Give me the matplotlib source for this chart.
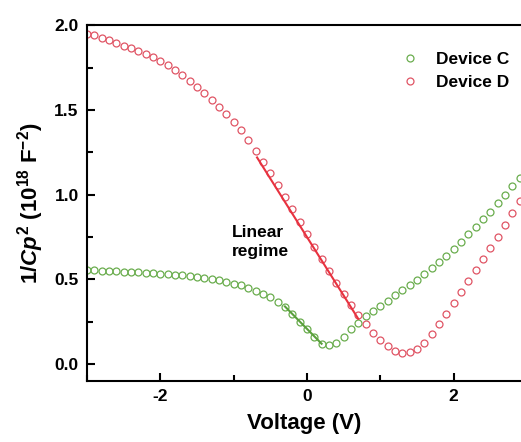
import numpy as np
import matplotlib
matplotlib.use("Agg")
import matplotlib.pyplot as plt
from matplotlib.ticker import MultipleLocator

plt.rcParams['font.family'] = ['Liberation Sans', 'DejaVu Sans']
plt.rcParams['mathtext.fontset'] = 'custom'
plt.rcParams['mathtext.rm'] = 'Liberation Sans:bold'
plt.rcParams['mathtext.it'] = 'Liberation Sans:bold:italic'
plt.rcParams['mathtext.bf'] = 'Liberation Sans:bold'

voltage = np.round(np.arange(-3.0, 2.95, 0.1), 2)

device_c = [0.555, 0.553, 0.551, 0.549, 0.547, 0.545, 0.543, 0.541, 0.539, 0.537,
            0.534, 0.531, 0.527, 0.523, 0.519, 0.514, 0.508, 0.501, 0.494, 0.485,
            0.475, 0.464, 0.450, 0.434, 0.415, 0.393, 0.365, 0.335, 0.295, 0.250,
            0.205, 0.160, 0.120, 0.110, 0.125, 0.160, 0.205, 0.245, 0.285, 0.315,
            0.345, 0.375, 0.405, 0.435, 0.465, 0.495, 0.530, 0.565, 0.600, 0.640,
            0.680, 0.720, 0.765, 0.810, 0.855, 0.900, 0.950, 1.000, 1.050, 1.100]

device_d = [1.950, 1.940, 1.925, 1.910, 1.895, 1.880, 1.865, 1.850, 1.832, 1.815,
            1.790, 1.765, 1.737, 1.706, 1.672, 1.635, 1.600, 1.560, 1.520, 1.475,
            1.430, 1.380, 1.325, 1.260, 1.195, 1.125, 1.055, 0.985, 0.915, 0.840,
            0.765, 0.690, 0.620, 0.550, 0.480, 0.415, 0.350, 0.290, 0.235, 0.185,
            0.140, 0.105, 0.080, 0.068, 0.070, 0.090, 0.125, 0.175, 0.235, 0.295,
            0.360, 0.425, 0.490, 0.555, 0.620, 0.685, 0.750, 0.820, 0.890, 0.960]

# linear fits: (x_start, x_end, slope, intercept)
fit_c = (-0.30, 0.20, -0.44, 0.208)
fit_d = (-0.68, 0.70, -0.69, 0.75)

series_labels = ["Device C", "Device D"]
green = "#6aad4e"
red = "#e05565"

fig = plt.figure(figsize=(5.21, 4.42), dpi=100)
ax = fig.add_axes([0.167, 0.138, 0.833, 0.805])

ax.plot(voltage, device_c, linestyle='none', marker='o', markersize=5.0,
        markerfacecolor='none', markeredgecolor=green, markeredgewidth=0.9,
        label=series_labels[0])
ax.plot(voltage, device_d, linestyle='none', marker='o', markersize=5.0,
        markerfacecolor='none', markeredgecolor=red, markeredgewidth=0.9,
        label=series_labels[1])

for fit, col in ((fit_c, "#5aa03c"), (fit_d, "#e8323f")):
    xs = np.array([fit[0], fit[1]])
    ax.plot(xs, fit[2] * xs + fit[3], color=col, linewidth=1.5)

ax.set_xlim(-3.0, 2.92)
ax.set_ylim(-0.1, 2.0)
ax.set_xticks([-2, 0, 2])
ax.set_xticklabels(['-2', '0', '2'])
ax.xaxis.set_minor_locator(MultipleLocator(1))
ax.yaxis.set_major_locator(MultipleLocator(0.5))
ax.yaxis.set_minor_locator(MultipleLocator(0.25))
ax.yaxis.set_major_formatter(matplotlib.ticker.FormatStrFormatter('%.1f'))
ax.tick_params(which='both', direction='in', width=1.5, labelsize=12.5, pad=6)
ax.tick_params(which='major', length=6)
ax.tick_params(which='minor', length=4)
ax.tick_params(top=False, right=False)
for lab in ax.get_xticklabels() + ax.get_yticklabels():
    lab.set_fontweight('bold')

ax.spines['right'].set_visible(False)
for s in ('left', 'bottom', 'top'):
    ax.spines[s].set_linewidth(1.5)

ax.set_xlabel('Voltage (V)', fontsize=16, fontweight='bold', labelpad=6)
ax.set_ylabel(r'1/$\mathit{Cp}^{2}$ (10$^{18}$ F$^{-2}$)', fontsize=16,
              fontweight='bold', labelpad=6)

ax.text(-1.03, 0.72, 'Linear\nregime', fontsize=12.5, fontweight='bold',
        ha='left', va='center', linespacing=1.35)

leg = ax.legend(loc='upper right', bbox_to_anchor=(0.99, 0.945), frameon=False,
                fontsize=12.5, handletextpad=0.75, markerscale=1.0,
                borderaxespad=0.0, labelspacing=0.45, handlelength=1.6)
for t in leg.get_texts():
    t.set_fontweight('bold')

fig.savefig('out.png', dpi=100)
